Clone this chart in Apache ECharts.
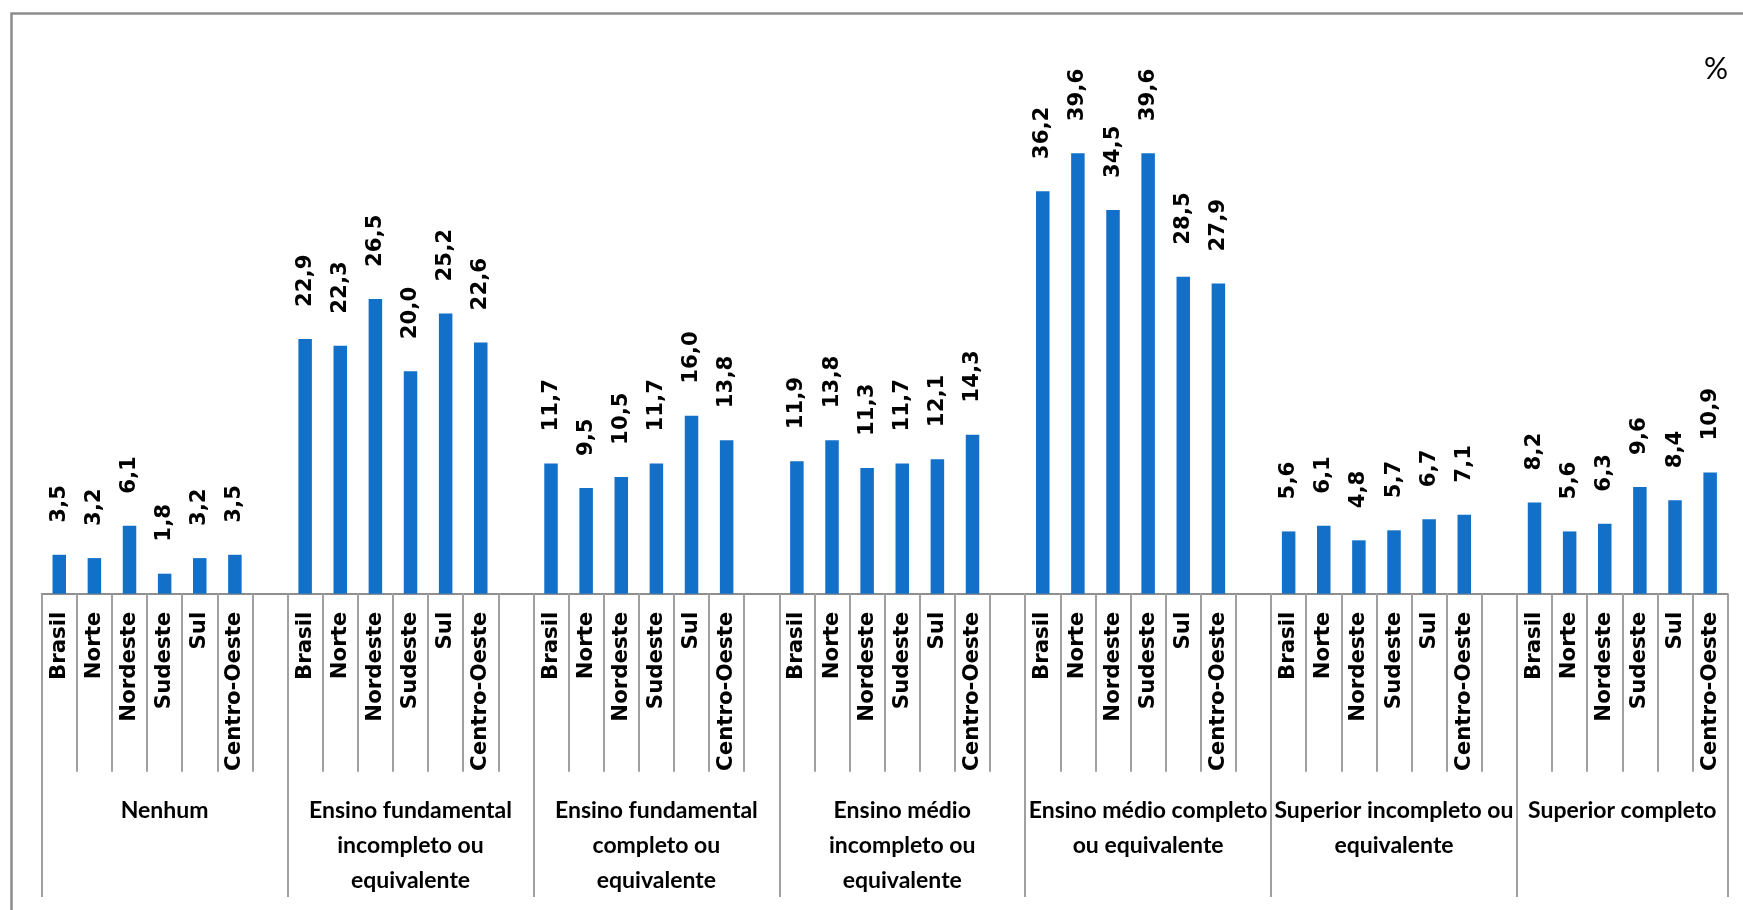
<!DOCTYPE html>
<html>
<head>
<meta charset="utf-8">
<script src="https://cdn.jsdelivr.net/npm/echarts@6/dist/echarts.min.js"></script>
<style>
html,body{margin:0;padding:0;background:#fff;}
#chart{width:1743px;height:910px;}
</style>
</head>
<body>
<div id="chart"></div>
<script>
const regions = ['Brasil', 'Norte', 'Nordeste', 'Sudeste', 'Sul', 'Centro-Oeste'];
const groups = [
  'Nenhum',
  'Ensino fundamental\nincompleto ou\nequivalente',
  'Ensino fundamental\ncompleto ou\nequivalente',
  'Ensino médio\nincompleto ou\nequivalente',
  'Ensino médio completo\nou equivalente',
  'Superior incompleto ou\nequivalente',
  'Superior completo'
];
const nenhum = [3.5, 3.2, 6.1, 1.8, 3.2, 3.5];
const fundIncompleto = [22.9, 22.3, 26.5, 20.0, 25.2, 22.6];
const fundCompleto = [11.7, 9.5, 10.5, 11.7, 16.0, 13.8];
const medioIncompleto = [11.9, 13.8, 11.3, 11.7, 12.1, 14.3];
const medioCompleto = [36.2, 39.6, 34.5, 39.6, 28.5, 27.9];
const superiorIncompleto = [5.6, 6.1, 4.8, 5.7, 6.7, 7.1];
const superiorCompleto = [8.2, 5.6, 6.3, 9.6, 8.4, 10.9];
const groupValues = [nenhum, fundIncompleto, fundCompleto, medioIncompleto, medioCompleto, superiorIncompleto, superiorCompleto];

// Build the flat category list: 6 regions per group + one blank spacer between groups
const categories = [];
const values = [];
const groupBounds = [];
const groupCenters = [];
groupValues.forEach((arr, gi) => {
  const start = categories.length;
  groupBounds.push(start);
  regions.forEach((r, ri) => { categories.push(r); values.push(arr[ri]); });
  if (gi < groupValues.length - 1) { categories.push(''); values.push(null); }
  groupCenters.push((start + categories.length) / 2);
});
groupBounds.push(categories.length);
const total = categories.length;

const chart = echarts.init(document.getElementById('chart'), null, {renderer: 'canvas'});
const gray = '#8f8f8f';
const option = {
  animation: false,
  backgroundColor: '#ffffff',
  title: {
    text: '%', left: 1704, top: 54, padding: 0,
    textStyle: {fontFamily: 'Lato', fontWeight: 'normal', fontSize: 30, lineHeight: 30, color: '#000'}
  },
  graphic: [{
    type: 'rect', left: 9, top: 11, silent: true,
    shape: {width: 1800, height: 1000},
    style: {fill: null, stroke: '#8c8c8c', lineWidth: 2.5}
  }],
  grid: {left: 41.7, right: 15.3, top: 37.7, bottom: 316.3, containLabel: false},
  xAxis: [{
    type: 'category',
    data: categories,
    position: 'bottom',
    axisLine: {show: true, lineStyle: {color: gray, width: 2}},
    axisTick: {show: true, interval: 0, alignWithLabel: false, length: 178, lineStyle: {color: '#a0a0a0', width: 2}},
    axisLabel: {
      interval: 0, rotate: 90, margin: 18,
      fontFamily: 'DejaVu Sans', fontWeight: 'bold', fontSize: 21.3, color: '#000'
    },
    splitLine: {show: false}
  }, {
    type: 'value',
    min: 0, max: total,
    position: 'bottom',
    axisLine: {show: false},
    splitLine: {show: false},
    axisTick: {show: true, customValues: groupBounds, length: 303.3, lineStyle: {color: '#a0a0a0', width: 2}},
    axisLabel: {
      show: true, customValues: groupCenters, margin: 199,
      formatter: function (v) {
        const i = groupCenters.findIndex(c => Math.abs(c - v) < 1e-6);
        return i >= 0 ? groups[i] : '';
      },
      fontFamily: 'Lato', fontWeight: 'bold', fontSize: 23, lineHeight: 35, color: '#000',
      align: 'center', verticalAlign: 'top'
    }
  }],
  yAxis: {type: 'value', min: 0, max: 50, show: false, splitLine: {show: false}},
  series: [{
    type: 'bar',
    xAxisIndex: 0,
    data: values,
    barWidth: 13.5,
    itemStyle: {color: '#1370c8'},
    label: {
      show: true, position: 'top', distance: 32, rotate: 90,
      align: 'left', verticalAlign: 'middle',
      fontFamily: 'DejaVu Sans', fontWeight: 'bold', fontSize: 21.3, color: '#000',
      formatter: p => p.value == null ? '' : p.value.toFixed(1).replace('.', ',')
    }
  }]
};
chart.setOption(option);
</script>
</body>
</html>
